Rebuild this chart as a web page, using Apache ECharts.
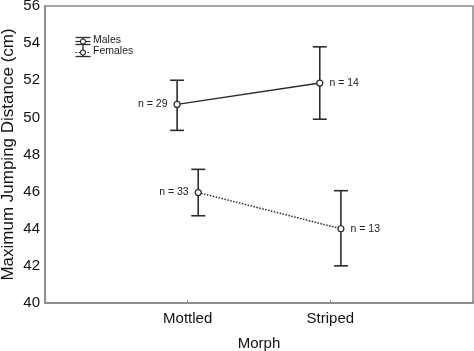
<!DOCTYPE html>
<html><head><meta charset="utf-8">
<script src="https://cdn.jsdelivr.net/npm/echarts@6/dist/echarts.min.js"></script>
<style>html,body{margin:0;padding:0;background:#fff}#c{width:474px;height:351px}</style>
</head><body><div id="c"></div>
<script>
const categories = ['Mottled', 'Striped'];
const malesMean = [50.7, 51.85];
const malesLow = [49.3, 49.9];
const malesHigh = [52.0, 53.8];
const malesN = [29, 14];
const femalesMean = [45.95, 44.0];
const femalesLow = [44.7, 42.0];
const femalesHigh = [47.2, 46.05];
const femalesN = [33, 13];
const yTicks = [40, 42, 44, 46, 48, 50, 52, 54, 56];

const dodge = 0.074;
const FONT = 'Liberation Sans, Arial, sans-serif';
const dark = '#2b2b2b';

function pts(means, off) { return means.map((v, i) => [i + 1 + off, v]); }
function bars(lo, hi, off) { return lo.map((v, i) => [i + 1 + off, v, hi[i]]); }

function errRender(params, api) {
  const x = api.value(0);
  const lo = api.coord([x, api.value(1)]);
  const hi = api.coord([x, api.value(2)]);
  const w = 7;
  const st = { stroke: dark, lineWidth: 1.6 };
  return { type: 'group', children: [
    { type: 'line', shape: { x1: lo[0], y1: lo[1], x2: hi[0], y2: hi[1] }, style: st },
    { type: 'line', shape: { x1: lo[0] - w, y1: lo[1], x2: lo[0] + w, y2: lo[1] }, style: st },
    { type: 'line', shape: { x1: hi[0] - w, y1: hi[1], x2: hi[0] + w, y2: hi[1] }, style: st }
  ]};
}

function lineSeries(name, means, ns, off, type) {
  return {
    name, type: 'line', z: 5,
    data: pts(means, off).map((d, i) => ({ value: d, label: { position: i === 0 ? 'left' : 'right' } })),
    symbol: 'circle', symbolSize: 6,
    itemStyle: { color: '#fff', borderColor: dark, borderWidth: 1.2 },
    lineStyle: { color: dark, width: 1.5, type: type },
    label: {
      show: true, fontFamily: FONT, fontSize: 10.5, color: '#222',
      formatter: p => 'n = ' + ns[p.dataIndex], distance: 6
    }
  };
}

const chart = echarts.init(document.getElementById('c'));
chart.setOption({
  animation: false,
  grid: { left: 45, right: 1, top: 6, bottom: 48, outerBoundsMode: 'none', containLabel: false,
    show: true, borderColor: '#888', borderWidth: 1.5 },
  xAxis: {
    type: 'value', min: 0, max: 3, interval: 1,
    name: 'Morph', nameLocation: 'middle', nameGap: 33,
    nameTextStyle: { fontFamily: FONT, fontSize: 15, color: '#111' },
    axisLine: { lineStyle: { color: '#888', width: 1.5 } },
    axisTick: { inside: true, length: 3, lineStyle: { color: '#888' } },
    splitLine: { show: false },
    axisLabel: { fontFamily: FONT, fontSize: 15, color: '#111', margin: 8,
      formatter: v => (v >= 1 && v <= categories.length) ? categories[v - 1] : '' }
  },
  yAxis: {
    type: 'value', min: yTicks[0], max: yTicks[yTicks.length - 1], interval: 2,
    name: 'Maximum Jumping Distance (cm)', nameLocation: 'middle', nameGap: 28,
    nameMoveOverlap: false,
    nameTextStyle: { fontFamily: FONT, fontSize: 17, color: '#111' },
    axisLine: { show: true, lineStyle: { color: '#888', width: 1.5 } },
    axisTick: { show: false },
    splitLine: { show: false },
    axisLabel: { fontFamily: FONT, fontSize: 15, color: '#111', margin: 5 }
  },
  series: [
    { type: 'custom', renderItem: errRender, data: bars(malesLow, malesHigh, -dodge), encode: { x: 0, y: [1, 2] }, z: 3 },
    { type: 'custom', renderItem: errRender, data: bars(femalesLow, femalesHigh, dodge), encode: { x: 0, y: [1, 2] }, z: 3 },
    lineSeries('Males', malesMean, malesN, -dodge, 'solid'),
    lineSeries('Females', femalesMean, femalesN, dodge, 'dotted')
  ],
  graphic: [
    { type: 'group', left: 73, top: 35, children: [
      { type: 'line', shape: { x1: 7.5, y1: 0, x2: 7.5, y2: 19 }, style: { stroke: dark, lineWidth: 1.3 } },
      { type: 'line', shape: { x1: 0, y1: 0, x2: 15, y2: 0 }, style: { stroke: dark, lineWidth: 1.3 } },
      { type: 'line', shape: { x1: 0, y1: 7, x2: 15, y2: 7 }, style: { stroke: dark, lineWidth: 1.3 } },
      { type: 'line', shape: { x1: 0, y1: 19, x2: 15, y2: 19 }, style: { stroke: dark, lineWidth: 1.3 } },
      { type: 'line', shape: { x1: 0, y1: 4, x2: 15, y2: 4 }, style: { stroke: dark, lineWidth: 1.2 } },
      { type: 'line', shape: { x1: 0, y1: 15, x2: 15, y2: 15 }, style: { stroke: dark, lineWidth: 1.2, lineDash: [1.5, 1.5] } },
      { type: 'circle', shape: { cx: 7.5, cy: 4, r: 2.5 }, style: { fill: '#fff', stroke: dark, lineWidth: 1.1 } },
      { type: 'circle', shape: { cx: 7.5, cy: 15, r: 2.5 }, style: { fill: '#fff', stroke: dark, lineWidth: 1.1 } }
    ]},
    { type: 'text', left: 93, top: 35, style: { text: 'Males', fontFamily: FONT, fontSize: 10.5, fill: '#222' } },
    { type: 'text', left: 93, top: 46, style: { text: 'Females', fontFamily: FONT, fontSize: 10.5, fill: '#222' } }
  ]
});
</script></body></html>
